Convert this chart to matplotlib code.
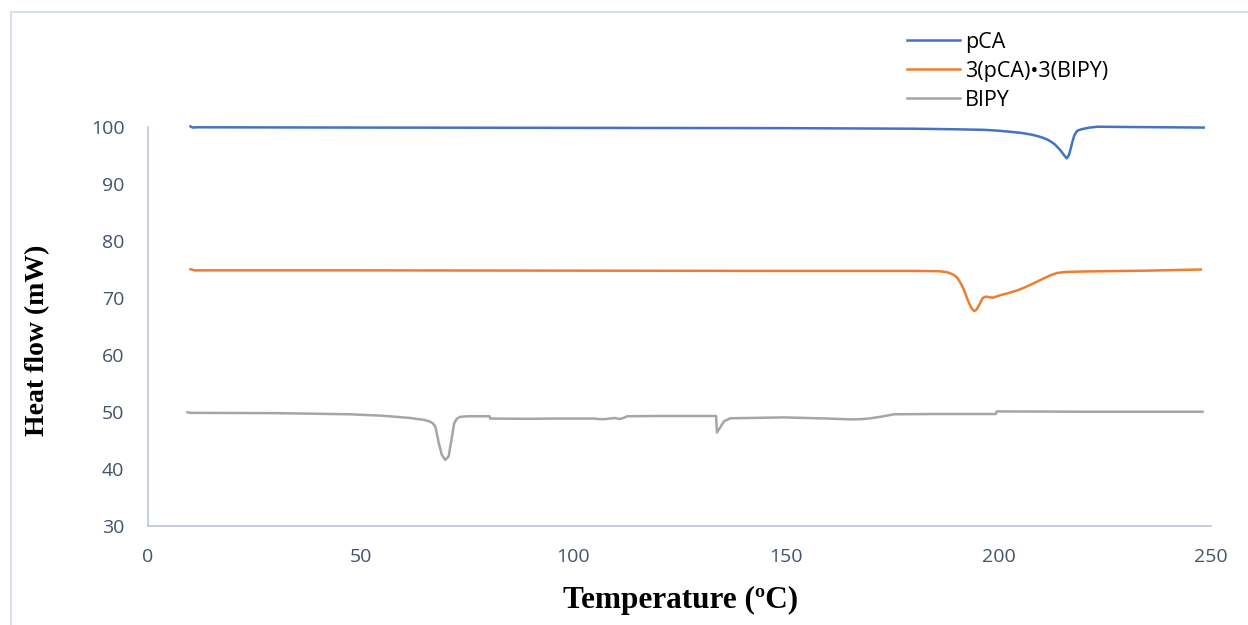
import matplotlib
matplotlib.use("Agg")
import matplotlib.pyplot as plt
from matplotlib.patches import Rectangle

# ---- data ----
pca_t = [10, 10.5, 11.5, 50, 100, 150, 180, 190, 196.6, 200, 203, 205.5, 207.5, 209, 210.5, 211.5, 212.3,
         213.2, 213.9, 214.6, 215.1, 215.6, 216.1, 216.6, 217.0, 217.4, 217.8, 218.2, 218.6, 219.3,
         220.1, 221.5, 223.3, 230, 248.3]
pca_v = [100.1, 99.9, 99.95, 99.9, 99.85, 99.8, 99.7, 99.6, 99.5, 99.35, 99.15, 98.95, 98.7, 98.45, 98.1, 97.8, 97.45,
         97.0, 96.45, 95.9, 95.4, 94.9, 94.5, 95.1, 96.2, 97.4, 98.4, 99.0, 99.35, 99.55,
         99.7, 99.9, 100.05, 100.0, 99.9]

co_t = [10, 11, 50, 100, 150, 180, 186, 187.8, 188.8, 189.6, 190.4, 191.2, 191.9, 192.5, 193.1, 193.7,
        194.3, 194.9, 195.5, 196.3, 197.1, 197.8, 198.6, 199.5, 200.5, 202.5, 204.5, 206, 207.5,
        209.2, 210.7, 212, 213, 213.9, 215.5, 217, 220.2, 235, 247.6]
co_v = [75.05, 74.85, 74.85, 74.8, 74.75, 74.75, 74.7, 74.55, 74.3, 74.0, 73.5, 72.5, 71.4, 70.2, 69.1, 68.2,
        67.7, 68.0, 68.8, 70.0, 70.25, 70.15, 70.05, 70.25, 70.5, 70.9, 71.35, 71.8, 72.3,
        72.9, 73.45, 73.9, 74.2, 74.4, 74.55, 74.6, 74.65, 74.8, 75.0]

bipy_t = [9.3, 10, 30, 47.6, 55, 61.7, 65, 66.4, 67.0, 67.6, 68.4, 69.1, 69.9, 70.7, 71.5, 72.0,
          72.6, 73.4, 75, 80.3, 80.5, 90, 94.6, 105, 106, 107.5, 108.5, 110, 110.8, 111.8, 112.7,
          120, 133.6, 133.8, 134.5, 135.5, 137, 149.5, 160, 165.3, 168, 170, 173, 175.4, 185,
          199.4, 199.6, 220, 248]
bipy_v = [49.95, 49.85, 49.8, 49.6, 49.35, 48.95, 48.6, 48.3, 48.0, 47.4, 44.5, 42.5, 41.6, 42.2, 45.7, 48.0,
          48.8, 49.15, 49.25, 49.25, 48.85, 48.8, 48.85, 48.85, 48.75, 48.75, 48.85, 48.95, 48.75, 48.95, 49.25,
          49.3, 49.3, 46.4, 47.2, 48.4, 48.9, 49.05, 48.85, 48.7, 48.75, 48.9, 49.25, 49.6, 49.65,
          49.65, 50.1, 50.05, 50.05]

labels = ["pCA", "3(pCA)\u20223(BIPY)", "BIPY"]
colors = ["#4472C4", "#ED7D31", "#A5A5A5"]
xticks = [0, 50, 100, 150, 200, 250]
yticks = [30, 40, 50, 60, 70, 80, 90, 100]

# ---- figure ----
W, H = 1248, 625
fig = plt.figure(figsize=(W / 100, H / 100), dpi=100)
fig.patches.append(Rectangle((11 / W, -0.1), 1.2, 1 - 12 / H + 0.1, transform=fig.transFigure,
                             fill=False, edgecolor="#D6E0F0", linewidth=1.5))

ax = fig.add_axes([148 / W, 1 - 526 / H, (1211 - 148) / W, (526 - 127) / H])
for t, v, lab, c in zip([pca_t, co_t, bipy_t], [pca_v, co_v, bipy_v], labels, colors):
    ax.plot(t, v, color=c, lw=1.8, label=lab, clip_on=False, solid_joinstyle="round")

ax.set_xlim(0, 250)
ax.set_ylim(30, 100)
ax.set_xticks(xticks)
ax.set_yticks(yticks)
for s in ["top", "right"]:
    ax.spines[s].set_visible(False)
for s in ["left", "bottom"]:
    ax.spines[s].set_color("#BCC6D3")
    ax.spines[s].set_linewidth(1.2)
ax.tick_params(length=0, labelsize=14, labelcolor="#44546A")
ax.tick_params(axis="y", pad=17)
ax.tick_params(axis="x", pad=16)
for lbl in ax.get_xticklabels() + ax.get_yticklabels():
    lbl.set_fontfamily("Open Sans")

fig.text(681 / W, 1 - 600 / H, "Temperature (\u00baC)", ha="center", va="center",
         fontfamily="Liberation Serif", fontweight="bold", fontsize=22.5)
fig.text(38 / W, 1 - 340 / H, "Heat flow (mW)", ha="center", va="center", rotation=90,
         fontfamily="Liberation Serif", fontweight="bold", fontsize=20)

leg = ax.legend(loc="upper left", bbox_to_anchor=(907 / W, 1 - 32 / H), bbox_transform=fig.transFigure,
                frameon=False, prop={"family": "Open Sans", "size": 15.5}, handlelength=2.45,
                handletextpad=0.25, labelspacing=0.36, borderaxespad=0, borderpad=0)

fig.savefig("out.png", dpi=100)
